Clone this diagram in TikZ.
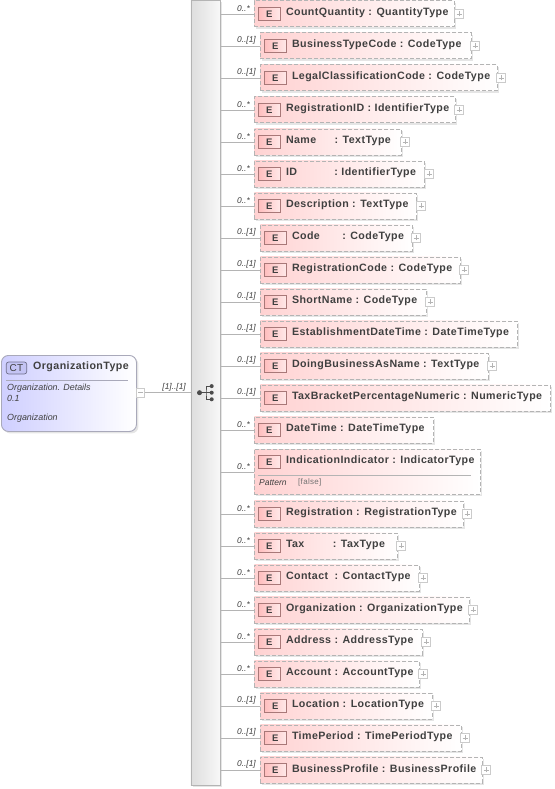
\documentclass[tikz,border=0pt]{standalone}
\usepackage{fontspec}
\setmainfont{Liberation Sans}
\newfontfamily\labelfont[LetterSpace=4]{Liberation Sans}
\usetikzlibrary{positioning}
\usetikzlibrary{shadows}
\definecolor{boxedge}{HTML}{B4B4B4}
\definecolor{rowpink}{HTML}{FFD2D2}
\definecolor{badgeedge}{HTML}{A87878}
\definecolor{badgefill}{HTML}{FFBEBE}
\definecolor{ctblue}{HTML}{CFCFFF}
\definecolor{ctbadge}{HTML}{C4C4F4}
\definecolor{ctedge}{HTML}{70708C}
\definecolor{inktext}{HTML}{404040}
\tikzset{
    softshadow/.style={drop shadow={shadow xshift=2pt,shadow yshift=-2pt,opacity=0.1,fill=black}},
    elembox/.style={draw=boxedge,dash pattern=on 4pt off 2pt,line width=0.9pt,left color=rowpink,right color=white,shading angle=90,minimum height=26pt,inner sep=0pt,anchor=north west,softshadow},
    elembadge/.style={draw=badgeedge,line width=0.8pt,left color=badgefill,right color=rowpink!50,minimum width=22pt,minimum height=13pt,inner sep=0pt,font=\fontsize{9.5}{10}\labelfont\bfseries,text=inktext,anchor=west},
    elemlabel/.style={font=\fontsize{10.65}{12}\labelfont\bfseries,text=inktext,inner sep=0pt,anchor=west},
    occurs/.style={font=\fontsize{8.4}{10}\selectfont\itshape,text=inktext,inner sep=0pt,anchor=south east},
    link/.style={draw=boxedge,line width=0.8pt},
    expander/.style={draw=boxedge!70,fill=white,minimum size=8.5pt,inner sep=0pt,line width=0.6pt,
        path picture={\draw[boxedge,line width=0.6pt] ([xshift=-2.5pt]path picture bounding box.center)--([xshift=2.5pt]path picture bounding box.center)
            ([yshift=-2.5pt]path picture bounding box.center)--([yshift=2.5pt]path picture bounding box.center);}},
    collapser/.style={draw=boxedge!70,fill=white,minimum size=8.5pt,inner sep=0pt,line width=0.6pt,
        path picture={\draw[boxedge,line width=0.6pt] ([xshift=-2.5pt]path picture bounding box.center)--([xshift=2.5pt]path picture bounding box.center);}},
    notetext/.style={font=\fontsize{8.9}{10}\selectfont\itshape,text=inktext,inner sep=0pt,anchor=west},
}
\begin{document}
\begin{tikzpicture}[x=1pt,y=1pt]
    \useasboundingbox (0,0) rectangle (554,-789);
    \fill[white] (0,0) rectangle (554,-789);

    % compositor spine
    \node[draw=boxedge,line width=0.9pt,left color=black!13,right color=black!3,shading angle=90,minimum width=29pt,minimum height=785pt,inner sep=0pt,anchor=north west,softshadow] (seq) at (190.5,0) {};
    \node[circle,fill=black!70,minimum size=5pt,inner sep=0pt] (hub) at (199.5,-392.7) {};
    \foreach \p/\dy in {up/-6.6,mid/0,down/6.6} {
        \node[circle,fill=black!70,minimum size=4pt,inner sep=0pt] (hub\p) at (211.7,-392.7-\dy) {};
    }
    \coordinate (hubjoin) at (206,-392.7);
    \draw[black!70,line width=0.8pt] (hub)--(hubmid);
    \draw[black!70,line width=0.8pt] (hubup)-|(hubjoin)|-(hubdown);

    % complex type
    \node[draw=ctedge!60,line width=0.9pt,rounded corners=7pt,left color=ctblue,right color=white,shading angle=90,minimum width=135pt,minimum height=76pt,inner sep=0pt,anchor=north west,softshadow] (ctype) at (1,-355) {};
    \node[draw=ctedge,line width=0.7pt,rounded corners=2.5pt,fill=ctbadge,minimum width=20.5pt,minimum height=12pt,inner sep=0pt,font=\fontsize{10}{10}\labelfont,text=inktext] (ctbadge) at (16.5,-368) {CT};
    \node[elemlabel] (ctname) at (33,-366.5) {OrganizationType};
    \draw[ctedge!60,line width=0.6pt] (6,-380.7)--(128,-380.7);
    \node[notetext] (ctnote1) at (7,-388) {Organization. Details};
    \node[notetext] (ctnote2) at (7,-398) {0.1};
    \node[notetext] (ctnote3) at (7,-418) {Organization};
    \node[collapser] (ctminus) at (140.5,-392.7) {};
    \draw[link] (ctminus)--(seq.west |- ctminus);
    \node[occurs] (ctocc) at (186,-391.5) {[1]..[1]};

    % elements
    \foreach \i/\x/\xr/\top/\occ/\nm/\tp/\gap in {
        1/254/454/0/0..*/CountQuantity/QuantityType/0,
        2/260/471/32/0..[1]/BusinessTypeCode/CodeType/0,
        3/260/497/64/0..[1]/LegalClassificationCode/CodeType/0,
        4/254/455/96/0..*/RegistrationID/IdentifierType/0,
        5/254/401/128/0..*/Name/TextType/15,
        6/254/424/160/0..*/ID/IdentifierType/34,
        7/254/416/192/0..*/Description/TextType/0,
        8/260/412/224/0..[1]/Code/CodeType/19,
        9/260/460/256/0..[1]/RegistrationCode/CodeType/0,
        10/260/426/288/0..[1]/ShortName/CodeType/0,
        11/260/517/320/0..[1]/EstablishmentDateTime/DateTimeType/0,
        12/260/488/352/0..[1]/DoingBusinessAsName/TextType/0,
        13/260/550/384/0..[1]/TaxBracketPercentageNumeric/NumericType/0,
        14/254/433/416/0..*/DateTime/DateTimeType/0,
        16/254/463/500/0..*/Registration/RegistrationType/0,
        17/254/397/532/0..*/Tax/TaxType/25,
        18/254/419/564/0..*/Contact/ContactType/3,
        19/254/469/596/0..*/Organization/OrganizationType/0,
        20/254/422/628/0..*/Address/AddressType/0,
        21/254/419/660/0..*/Account/AccountType/0,
        22/260/432/692/0..[1]/Location/LocationType/0,
        23/260/461/724/0..[1]/TimePeriod/TimePeriodType/0,
        24/260/482/756/0..[1]/BusinessProfile/BusinessProfile/0} {
        \node[elembox,minimum width=\xr pt-\x pt] (box\i) at (\x,-\top-0.5) {};
        \node[elembadge,right=4pt of box\i.west] (tag\i) {E};
        \node[elemlabel,right=5pt of tag\i.east,yshift=1pt] (lab\i) {\nm\hspace{\gap pt} : \tp};
        \draw[link] (seq.east |- box\i)--(box\i);
        \node[occurs,above left=2pt and 4pt of box\i.west] (occ\i) {\occ};
    }

    % element with a fixed value
    \node[elembox,minimum width=226pt,minimum height=45pt] (box15) at (254,-449) {};
    \node[elembadge] (tag15) at (258,-462) {E};
    \node[elemlabel,right=5pt of tag15.east,yshift=1pt] (lab15) {IndicationIndicator : IndicatorType};
    \draw[boxedge,line width=0.7pt] (258,-475)--(471,-475);
    \node[notetext,font=\fontsize{8.5}{10}\selectfont\itshape] (pat15) at (259,-482.5) {Pattern};
    \node[notetext,font=\fontsize{8}{10}\labelfont,text=black!55] (val15) at (298,-482.5) {[false]};
    \draw[link] (seq.east |- box15)--(box15);
    \node[occurs,above left=2pt and 4pt of box15.west] (occ15) {0..*};

    % expanders
    \foreach \i/\cx in {1/459,2/475,3/501,4/459,5/405,6/429,7/421,8/416,9/464,10/430,12/492,16/467,17/401,18/423,19/473,20/426,21/423,22/436,23/465,24/486} {
        \node[expander] (plus\i) at (\cx,0 |- box\i) {};
    }
\end{tikzpicture}
\end{document}
